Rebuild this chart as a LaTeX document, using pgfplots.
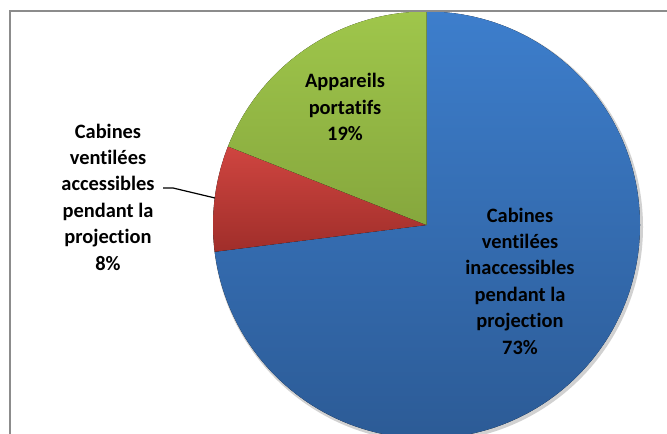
\documentclass[border=0pt]{standalone}
\usepackage{pgfplots}
\pgfplotsset{compat=1.18}
\usepackage{pgfplotstable}
\usepackage{fontspec}
\setmainfont[Ligatures={NoCommon}]{Carlito}
\definecolor{blueTop}{HTML}{3D7ECC}
\definecolor{blueBot}{HTML}{2C5B96}
\definecolor{redTop}{HTML}{CF4540}
\definecolor{redBot}{HTML}{A02E2A}
\definecolor{greenTop}{HTML}{9FC64B}
\definecolor{greenBot}{HTML}{86A73D}
\definecolor{frameGray}{HTML}{8C8C8C}
\pgfplotstableread{
label share
inaccessibles 73
accessibles 8
portatifs 19
}\piedata
\begin{document}
\begin{tikzpicture}
\pgfplotstablegetelem{0}{share}\of\piedata \let\vA\pgfplotsretval
\pgfplotstablegetelem{1}{share}\of\piedata \let\vB\pgfplotsretval
\pgfplotstablegetelem{2}{share}\of\piedata \let\vC\pgfplotsretval
\pgfmathsetmacro\aA{90-3.6*\vA}
\pgfmathsetmacro\aB{\aA-3.6*\vB}
\pgfmathsetmacro\aC{\aB-3.6*\vC}
\begin{axis}[
  width=667bp, height=434bp, scale only axis,
  xmin=0, xmax=667, ymin=0, ymax=434,
  hide axis,
]
% shadow
\fill[black!18] (axis cs:428,207) circle[radius=215bp];
\fill[top color=blueTop,bottom color=blueBot] (axis cs:426.5,209) -- ++(90:213.5bp) arc[start angle=90,end angle=\aA,radius=213.5bp] -- cycle;
\fill[top color=redTop,bottom color=redBot] (axis cs:426.5,209) -- ++(\aA:213.5bp) arc[start angle=\aA,end angle=\aB,radius=213.5bp] -- cycle;
\fill[top color=greenTop,bottom color=greenBot] (axis cs:426.5,209) -- ++(\aB:213.5bp) arc[start angle=\aB,end angle=\aC,radius=213.5bp] -- cycle;
% frame
\draw[frameGray, line width=1.5bp] (axis cs:10,0) -- (axis cs:10,423) -- (axis cs:667,423);
% labels
\begin{scope}[every node/.style={align=center, text=black, font=\bfseries\fontsize{20.5}{26.5}\selectfont}]
\node at (axis cs:520,153) {Cabines\\ventilées\\inaccessibles\\pendant la\\projection\\73\%};
\node at (axis cs:108,237) {Cabines\\ventilées\\accessibles\\pendant la\\projection\\8\%};
\node at (axis cs:345,327) {Appareils\\portatifs\\19\%};
\end{scope}
\draw[black, line width=1.2bp] (axis cs:163,246) -- (axis cs:173,246) -- (axis cs:215,236);
\end{axis}
\pgfresetboundingbox
\path (current axis.south west) rectangle (current axis.north east);
\end{tikzpicture}
\end{document}
